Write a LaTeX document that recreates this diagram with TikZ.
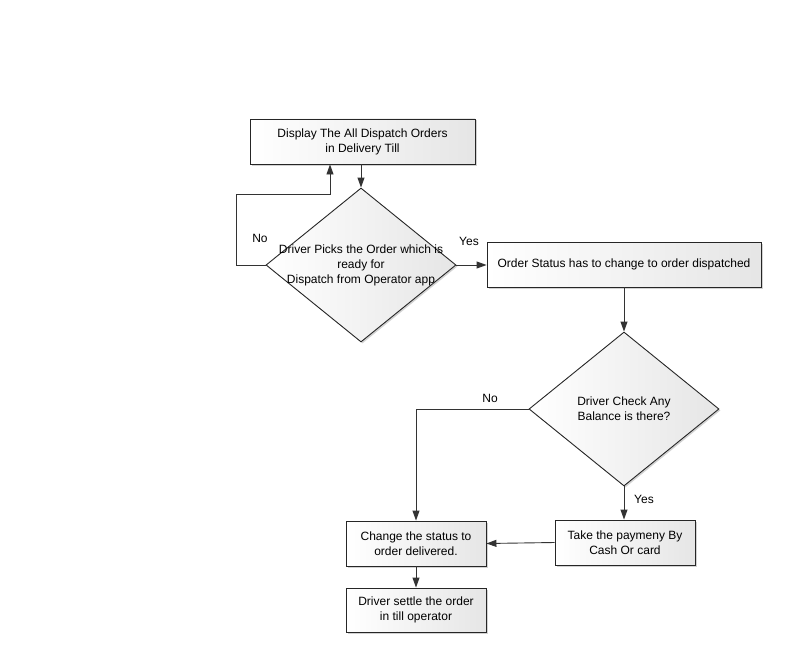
\documentclass[tikz,border=0pt]{standalone}
\usepackage{fontspec}
\setmainfont{Liberation Sans}
\usetikzlibrary{shapes.geometric,arrows.meta,shadows}
\begin{document}
\begin{tikzpicture}[x=1pt,y=-1pt,
  font=\fontsize{12}{15}\selectfont,
  boxstyle/.style={draw=black!85, line width=0.9pt, rectangle, left color=white, right color=black!10,
     drop shadow={shadow xshift=1.5pt, shadow yshift=-1.5pt, fill=black!35, opacity=0.5},
     align=center, inner sep=0pt},
  diastyle/.style={draw=black!85, line width=0.9pt, diamond, left color=white, right color=black!10,
     drop shadow={shadow xshift=1.5pt, shadow yshift=-1.5pt, fill=black!35, opacity=0.5},
     minimum width=190pt, minimum height=154pt, inner sep=0pt},
  conn/.style={draw=black!80, line width=0.9pt, -{Triangle[length=10pt,width=7pt]}},
  lbl/.style={inner sep=0pt}]
\useasboundingbox (0,0) rectangle (800,650);
\node[boxstyle, minimum width=225pt, minimum height=45pt] (b1) at (362.5,141.5)
  {Display The All Dispatch Orders\\in Delivery Till};
\node[diastyle] (d1) at (361,265) {};
\node[align=center] (t1) at (d1) {Driver Picks the Order which is\\ready for\\Dispatch from Operator app};
\node[boxstyle, minimum width=274pt, minimum height=45pt] (b2) at (624,264.5)
  {Order Status has to change to order dispatched};
\node[diastyle] (d2) at (624,409) {};
\node[align=center] (t2) at (d2) {Driver Check Any\\Balance is there?};
\node[boxstyle, minimum width=140pt, minimum height=45pt] (b3) at (625,542.5)
  {Take the paymeny By\\Cash Or card};
\node[boxstyle, minimum width=140pt, minimum height=45pt] (b4) at (416,543.5)
  {Change the status to\\order delivered.};
\node[boxstyle, minimum width=140pt, minimum height=44pt] (b5) at (416,610)
  {Driver settle the order\\in till operator};

\coordinate (c1) at (236,265);
\coordinate (c2) at (236,194);
\coordinate (c3) at (330,194);
\coordinate (c4) at (416,409);

\draw[conn] (b1.south -| d1.north) -- (d1.north);
\draw[conn] (d1.west) -- (c1) -- (c2) -- (c3) -- (c3 |- b1.south);
\draw[conn] (d1.east) -- (b2.west |- d1.east);
\draw[conn] (b2.south -| d2.north) -- (d2.north);
\draw[conn] (d2.west) -- (c4) -- (c4 |- b4.north);
\draw[conn] (d2.south) -- (d2.south |- b3.north);
\draw[conn] (b3.west) -- (b4.east);
\draw[conn] (b4.south) -- (b5.north);

\node[lbl] (n1) at (260,238) {No};
\node[lbl] (y1) at (469,241) {Yes};
\node[lbl] (n2) at (490,398) {No};
\node[lbl] (y2) at (644,499) {Yes};
\end{tikzpicture}
\end{document}
